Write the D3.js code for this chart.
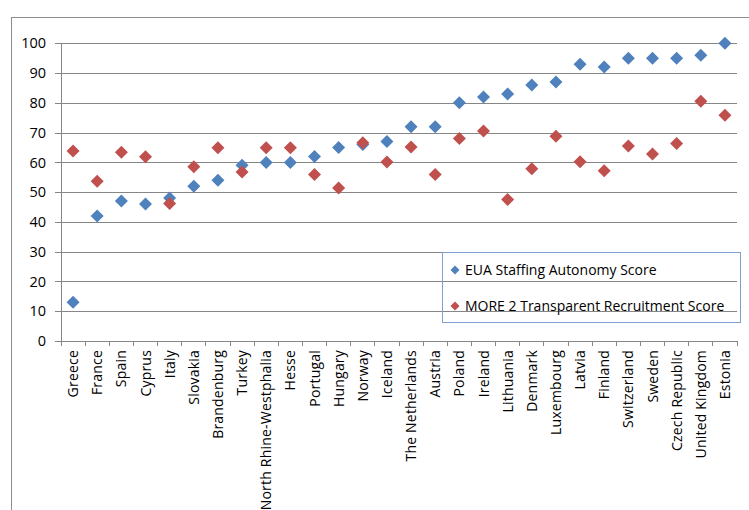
<!DOCTYPE html>
<html><head><meta charset="utf-8">
<script src="https://cdn.jsdelivr.net/npm/d3@7/dist/d3.min.js"></script>
<style>body{margin:0;background:#fff}svg{display:block}</style>
</head><body>
<script>
const categories = ["Greece","France","Spain","Cyprus","Italy","Slovakia","Brandenburg","Turkey","North Rhine-Westphalia","Hesse","Portugal","Hungary","Norway","Iceland","The Netherlands","Austria","Poland","Ireland","Lithuania","Denmark","Luxembourg","Latvia","Finland","Switzerland","Sweden","Czech Republic","United Kingdom","Estonia"];
const euaStaffing = [13,42,47,46,48,52,54,59,60,60,62,65,66,67,72,72,80,82,83,86,87,93,92,95,95,95,96,100];
const moreRecruitment = [63.8,53.7,63.4,61.9,46.2,58.5,64.9,56.8,64.9,64.9,55.9,51.4,66.6,60.1,65.2,55.9,68.0,70.5,47.5,57.9,68.8,60.2,57.2,65.5,62.8,66.3,80.5,75.8];
const yTicks = [0,10,20,30,40,50,60,70,80,90,100];
const seriesNames = ["EUA Staffing Autonomy Score","MORE 2 Transparent Recruitment Score"];

(function(){
const W = 749, H = 510;
const mLeft = 61, mRight = 737, mTop = 43.3, mBottom = 341;
const svg = d3.select("body").append("svg").attr("width", W).attr("height", H);
const font = "'Open Sans', sans-serif";

// outer border
svg.append("rect").attr("x", 11.5).attr("y", 17.5).attr("width", 760).attr("height", 520)
  .attr("fill", "none").attr("stroke", "#8c8c8c").attr("stroke-width", 1);

const x = d3.scaleBand().domain(categories).range([mLeft, mRight]);
const y = d3.scaleLinear().domain([0, 100]).range([mBottom, mTop]);

// gridlines
svg.append("g").attr("transform", `translate(${mLeft},0)`)
  .call(d3.axisLeft(y).tickValues(yTicks).tickSize(-(mRight - mLeft)).tickFormat(""))
  .call(g => g.select(".domain").remove())
  .call(g => g.selectAll("line").attr("stroke", "#868686").attr("shape-rendering", "crispEdges"));

// y axis
svg.append("g").attr("transform", `translate(${mLeft},0)`)
  .call(d3.axisLeft(y).tickValues(yTicks).tickSize(6).tickPadding(9))
  .call(g => g.select(".domain").attr("stroke", "#868686").attr("shape-rendering", "crispEdges"))
  .call(g => g.selectAll("line").attr("stroke", "#868686").attr("shape-rendering", "crispEdges"))
  .call(g => g.selectAll("text").attr("font-family", font).attr("font-size", 14.5).attr("fill", "#000"));

// x axis line and ticks at band boundaries
const xa = svg.append("g");
xa.append("line").attr("x1", mLeft).attr("x2", mRight).attr("y1", y(0)).attr("y2", y(0))
  .attr("stroke", "#868686").attr("shape-rendering", "crispEdges");
const bounds = categories.map(c => x(c)).concat([x(categories[categories.length-1]) + x.bandwidth()]);
xa.selectAll("line.tk").data(bounds).join("line").attr("class","tk")
  .attr("x1", d => d).attr("x2", d => d).attr("y1", y(0)).attr("y2", y(0) + 5)
  .attr("stroke", "#868686").attr("shape-rendering", "crispEdges");
xa.selectAll("text").data(categories).join("text")
  .attr("transform", d => `translate(${x(d) + x.bandwidth()/2 + 5},${y(0) + 9}) rotate(-90)`)
  .attr("text-anchor", "end").attr("font-family", font).attr("font-size", 14)
  .attr("letter-spacing", 0.2).attr("fill", "#000")
  .text(d => d);

function diamondPath(r) { return `M0,${-r}L${r},0L0,${r}L${-r},0Z`; }

// series
const blue = "#4F81BD", red = "#C0504D";
svg.append("g").selectAll("path").data(euaStaffing).join("path")
  .attr("d", diamondPath(6.5))
  .attr("transform", (d, i) => `translate(${x(categories[i]) + x.bandwidth()/2},${y(d)})`)
  .attr("fill", blue);
svg.append("g").selectAll("path").data(moreRecruitment).join("path")
  .attr("d", diamondPath(6.5))
  .attr("transform", (d, i) => `translate(${x(categories[i]) + x.bandwidth()/2},${y(d)})`)
  .attr("fill", red);

// legend
const lg = svg.append("g");
lg.append("rect").attr("x", 442.5).attr("y", 252.5).attr("width", 298).attr("height", 70)
  .attr("fill", "none").attr("stroke", "#7F9FCF").attr("stroke-width", 1);
[blue, red].forEach((c, i) => {
  const yy = 270 + i * 36;
  lg.append("path").attr("d", diamondPath(4.5)).attr("transform", `translate(455,${yy})`).attr("fill", c);
  lg.append("text").attr("x", 465).attr("y", yy + 5).attr("font-family", font).attr("font-size", 14)
    .attr("fill", "#000").text(seriesNames[i]);
});
})();
</script>
</body></html>
